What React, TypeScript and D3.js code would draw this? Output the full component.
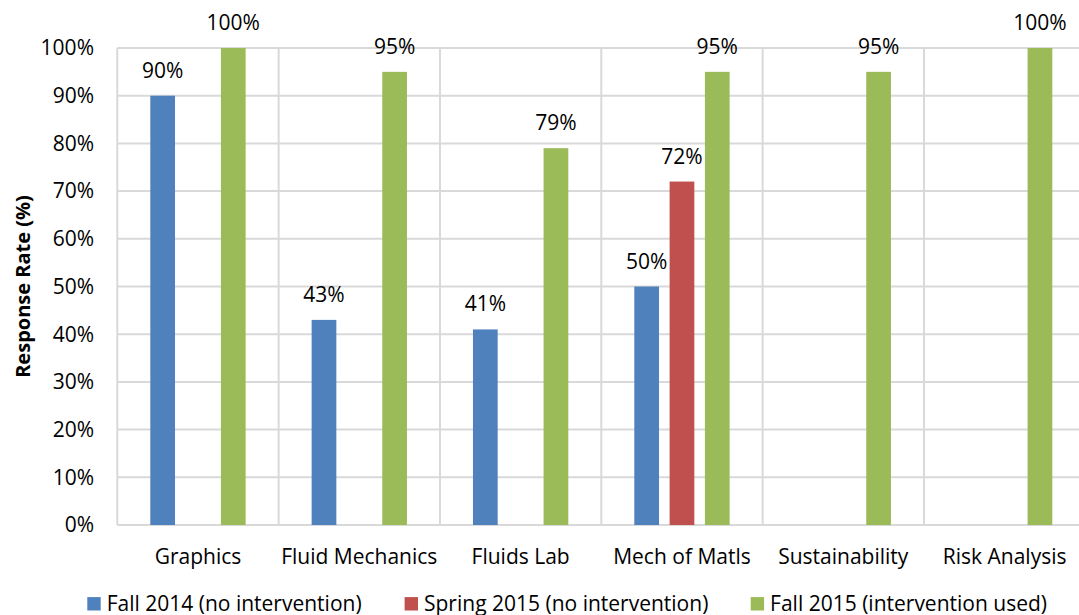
import React from "react";
import * as d3 from "d3";

// Course names along the x axis
const categories = [
  "Graphics",
  "Fluid Mechanics",
  "Fluids Lab",
  "Mech of Matls",
  "Sustainability",
  "Risk Analysis",
];

// Response rates (%) per semester; null = course not offered
const fall2014 = [90, 43, 41, 50, null, null];
const spring2015 = [null, null, null, 72, null, null];
const fall2015 = [100, 95, 79, 95, 95, 100];

const seriesNames = [
  "Fall 2014 (no intervention)",
  "Spring 2015 (no intervention)",
  "Fall 2015 (intervention used)",
];
const seriesColors = ["#4F81BD", "#C0504D", "#9BBB59"];

const yTicks = [0, 10, 20, 30, 40, 50, 60, 70, 80, 90, 100];

const WIDTH = 1079;
const HEIGHT = 615;
const FONT = "'Open Sans', sans-serif";
const FS = 21;

export default function App() {
  const allSeries = [fall2014, spring2015, fall2015];

  const plotLeft = 117.3;
  const plotRight = 1085.3;
  const plotTop = 48;
  const plotBottom = 525;

  const y = d3.scaleLinear().domain([0, 100]).range([plotBottom, plotTop]);
  const x0 = d3.scaleBand<string>().domain(categories).range([plotLeft, plotRight]);
  const bw = x0.bandwidth();
  const x1 = d3
    .scaleBand<number>()
    .domain([0, 1, 2])
    .range([33, bw - 33])
    .paddingInner(0.3)
    .paddingOuter(0);

  const fmt = (v: number) => `${d3.format(".0f")(v)}%`;
  const grid = "#D9D9D9";

  // legend layout: swatch x positions, label follows each swatch
  const legendBaseline = 610.5;
  const swatchX = [87.3, 404.6, 750.7];
  const swatch = 13.4;

  return (
    <svg
      width={WIDTH}
      height={HEIGHT}
      style={{ position: "absolute", left: 0, top: 0, background: "#fff" }}
      fontFamily={FONT}
    >
      <rect x={0} y={0} width={WIDTH} height={HEIGHT} fill="#fff" />

      {/* horizontal gridlines */}
      {yTicks.map((t) => (
        <line
          key={"h" + t}
          x1={plotLeft}
          x2={plotRight}
          y1={y(t)}
          y2={y(t)}
          stroke={grid}
          strokeWidth={2}
        />
      ))}
      {/* vertical category separators */}
      {categories.map((c) => (
        <line
          key={"v" + c}
          x1={x0(c)!}
          x2={x0(c)!}
          y1={plotTop}
          y2={plotBottom}
          stroke={grid}
          strokeWidth={2}
        />
      ))}
      <line x1={plotRight} x2={plotRight} y1={plotTop} y2={plotBottom} stroke={grid} strokeWidth={2} />

      {/* y tick labels */}
      {yTicks.map((t) => (
        <text
          key={"yl" + t}
          x={94}
          y={y(t)}
          dy="0.35em"
          textAnchor="end"
          fontSize={FS}
          fill="#000"
        >
          {fmt(t)}
        </text>
      ))}

      {/* y axis title */}
      <text
        transform={`translate(29.5, ${(plotTop + plotBottom) / 2}) rotate(-90)`}
        textAnchor="middle"
        fontSize={20}
        fontWeight="bold"
        fill="#000"
      >
        Response Rate (%)
      </text>

      {/* bars and value labels */}
      {categories.map((c, ci) =>
        allSeries.map((s, si) => {
          const v = s[ci];
          if (v == null) return null;
          const bx = x0(c)! + x1(si)!;
          const cx = bx + x1.bandwidth() / 2;
          return (
            <g key={c + si}>
              <rect
                x={bx}
                y={y(v)}
                width={x1.bandwidth()}
                height={y(0) - y(v)}
                fill={seriesColors[si]}
              />
              <text
                x={cx}
                y={y(v) - 18}
                textAnchor="middle"
                fontSize={FS}
                fill="#000"
              >
                {fmt(v)}
              </text>
            </g>
          );
        })
      )}

      {/* category labels */}
      {categories.map((c) => (
        <text
          key={"xl" + c}
          x={x0(c)! + bw / 2}
          y={564}
          textAnchor="middle"
          fontSize={FS}
          fill="#000"
        >
          {c}
        </text>
      ))}

      {/* legend */}
      {seriesNames.map((n, i) => (
        <g key={n}>
          <rect
            x={swatchX[i]}
            y={legendBaseline - swatch}
            width={swatch}
            height={swatch}
            fill={seriesColors[i]}
          />
          <text x={swatchX[i] + 19.4} y={legendBaseline} fontSize={FS} fill="#000">
            {n}
          </text>
        </g>
      ))}
    </svg>
  );
}
